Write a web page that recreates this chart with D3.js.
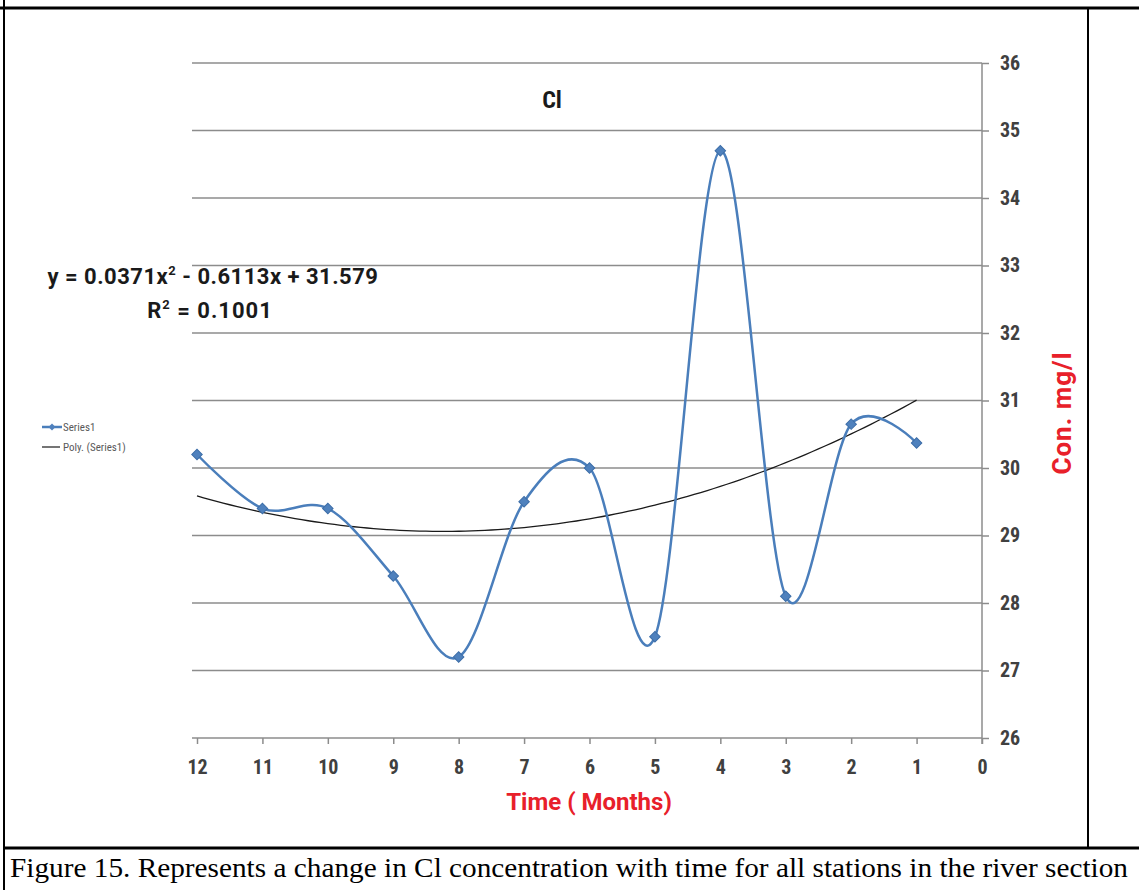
<!DOCTYPE html>
<html>
<head>
<meta charset="utf-8">
<script src="https://cdn.jsdelivr.net/npm/d3@7"></script>
<style>
  body { margin: 0; background: #fff; }
  svg { display: block; }
</style>
</head>
<body>
<script>
// data
const months = [12, 11, 10, 9, 8, 7, 6, 5, 4, 3, 2, 1];
const clValues = [30.2, 29.4, 29.4, 28.4, 27.2, 29.5, 30.0, 27.5, 34.7, 28.1, 30.65, 30.37];
const xTicks = [12, 11, 10, 9, 8, 7, 6, 5, 4, 3, 2, 1, 0];
const yTicks = [26, 27, 28, 29, 30, 31, 32, 33, 34, 35, 36];
// trend line coefficients as printed on the chart (a x^2 + b x + c)
const polyCoef = [0.0371, -0.6113, 31.579];

const width = 1139, height = 890;
const font = "Roboto, 'Open Sans', sans-serif";
const narrow = "'Roboto Condensed', Roboto, sans-serif";

let svg = d3.select("body").append("svg")
    .attr("width", width)
    .attr("height", height);

// table borders
svg.append("line").attr("x1", 0).attr("x2", width).attr("y1", 8).attr("y2", 8)
    .attr("stroke", "#000").attr("stroke-width", 3);
svg.append("line").attr("x1", 4).attr("x2", 4).attr("y1", 0).attr("y2", height)
    .attr("stroke", "#000").attr("stroke-width", 2);
svg.append("line").attr("x1", 1088).attr("x2", 1088).attr("y1", 8).attr("y2", 848)
    .attr("stroke", "#000").attr("stroke-width", 2);
svg.append("line").attr("x1", 4).attr("x2", width).attr("y1", 848).attr("y2", 848)
    .attr("stroke", "#000").attr("stroke-width", 3);

svg.append("text")
    .attr("x", 569).attr("y", 877)
    .attr("text-anchor", "middle")
    .attr("textLength", 1118)
    .attr("lengthAdjust", "spacingAndGlyphs")
    .style("font-family", "'Liberation Serif', 'Times New Roman', serif")
    .style("font-size", "27px")
    .text("Figure 15. Represents a change in Cl concentration with time for all stations in the river section");

// scales
let x = d3.scaleLinear().domain([12, 0]).range([197, 982]);
let y = d3.scaleLinear().domain([26, 36]).range([738, 63]);

// gridlines
svg.append("g")
    .selectAll("line")
    .data(yTicks)
    .join("line")
    .attr("x1", 192).attr("x2", x(0))
    .attr("y1", d => y(d)).attr("y2", d => y(d))
    .attr("stroke", "#8c8c8c").attr("stroke-width", 1.5);

// right axis
let yAxis = svg.append("g")
    .attr("transform", `translate(${x(0)},0)`)
    .call(d3.axisRight(y).tickValues(yTicks).tickSize(7).tickPadding(11).tickFormat(d3.format("d")));
yAxis.select(".domain").attr("stroke", "#8c8c8c").attr("stroke-width", 1.5)
    .attr("d", `M0,${y(36)}V${y(26) + 6}`);
yAxis.selectAll(".tick line").attr("stroke", "#8c8c8c").attr("stroke-width", 1.5);
yAxis.selectAll("text")
    .style("font-family", narrow).style("font-size", "20px").style("font-weight", "bold")
    .attr("fill", "#404040");

// bottom axis
let xAxis = svg.append("g")
    .attr("transform", `translate(0,${y(26)})`)
    .call(d3.axisBottom(x).tickValues(xTicks).tickSize(6).tickPadding(16).tickFormat(d3.format("d")));
xAxis.select(".domain").remove();
xAxis.selectAll(".tick line").attr("stroke", "#8c8c8c").attr("stroke-width", 1.5);
xAxis.selectAll("text")
    .style("font-family", narrow).style("font-size", "20px").style("font-weight", "bold")
    .attr("fill", "#404040");

// polynomial trend
let trendX = d3.range(12, 0.99, -0.1);
let trendLine = d3.line()
    .x(d => x(d))
    .y(d => y(polyCoef[0] * d * d + polyCoef[1] * d + polyCoef[2]));
svg.append("path")
    .datum(trendX)
    .attr("d", trendLine)
    .attr("fill", "none")
    .attr("stroke", "#1a1a1a")
    .attr("stroke-width", 1.3);

// series line
let pts = months.map((m, i) => [m, clValues[i]]);
let smooth = d3.line()
    .x(d => x(d[0]))
    .y(d => y(d[1]))
    .curve(d3.curveCardinal.tension(0));
svg.append("path")
    .datum(pts)
    .attr("d", smooth)
    .attr("fill", "none")
    .attr("stroke", "#4a7ebb")
    .attr("stroke-width", 2.5);

// markers: small squares turned 45 degrees
let marker = d3.symbol().type(d3.symbolSquare).size(55);
svg.append("g")
    .selectAll("path")
    .data(pts)
    .join("path")
    .attr("transform", d => `translate(${x(d[0])},${y(d[1])}) rotate(45)`)
    .attr("d", marker)
    .attr("fill", "#4f81bd")
    .attr("stroke", "#3d6ea8")
    .attr("stroke-width", 1);

// title
svg.append("text")
    .attr("x", 552).attr("y", 108)
    .attr("text-anchor", "middle")
    .style("font-family", narrow).style("font-size", "24px").style("font-weight", "bold")
    .attr("fill", "#1a1a1a")
    .text("Cl");

// equation, both lines centred on each other
let eq = svg.append("text")
    .attr("x", 213).attr("y", 284)
    .attr("text-anchor", "middle")
    .style("font-family", font).style("font-size", "22px").style("font-weight", "bold")
    .style("letter-spacing", "0.5px")
    .attr("fill", "#1a1a1a");
eq.append("tspan").text("y = 0.0371x");
eq.append("tspan").attr("dy", -9).style("font-size", "13px").text("2");
eq.append("tspan").attr("dy", 9).text(" - 0.6113x + 31.579");

let r2 = svg.append("text")
    .attr("x", 210).attr("y", 318)
    .attr("text-anchor", "middle")
    .style("font-family", font).style("font-size", "22px").style("font-weight", "bold")
    .style("letter-spacing", "1px")
    .attr("fill", "#1a1a1a");
r2.append("tspan").text("R");
r2.append("tspan").attr("dy", -9).style("font-size", "13px").text("2");
r2.append("tspan").attr("dy", 9).text(" = 0.1001");

// legend
let leg = svg.append("g").attr("transform", "translate(42,427)");
leg.append("line").attr("x1", 0).attr("x2", 20).attr("y1", 0).attr("y2", 0)
    .attr("stroke", "#4a7ebb").attr("stroke-width", 2.5);
leg.append("path").attr("transform", "translate(10,0) rotate(45)")
    .attr("d", d3.symbol().type(d3.symbolSquare).size(24))
    .attr("fill", "#4f81bd");
leg.append("text").attr("x", 21).attr("y", 4)
    .style("font-family", narrow).style("font-size", "11px").attr("fill", "#595959")
    .text("Series1");
leg.append("line").attr("x1", 0).attr("x2", 18).attr("y1", 20).attr("y2", 20)
    .attr("stroke", "#1a1a1a").attr("stroke-width", 1.2);
leg.append("text").attr("x", 21).attr("y", 24)
    .style("font-family", narrow).style("font-size", "11px").attr("fill", "#595959")
    .text("Poly. (Series1)");

// axis titles
svg.append("text")
    .attr("transform", "translate(1071,413) rotate(-90)")
    .attr("text-anchor", "middle")
    .style("font-family", font).style("font-size", "26px").style("font-weight", "bold")
    .style("letter-spacing", "1px")
    .attr("fill", "#e8202a")
    .text("Con. mg/l");

svg.append("text")
    .attr("x", 589).attr("y", 810)
    .attr("text-anchor", "middle")
    .style("font-family", font).style("font-size", "24px").style("font-weight", "bold")
    .attr("fill", "#e8202a")
    .text("Time ( Months)");
</script>
</body>
</html>
